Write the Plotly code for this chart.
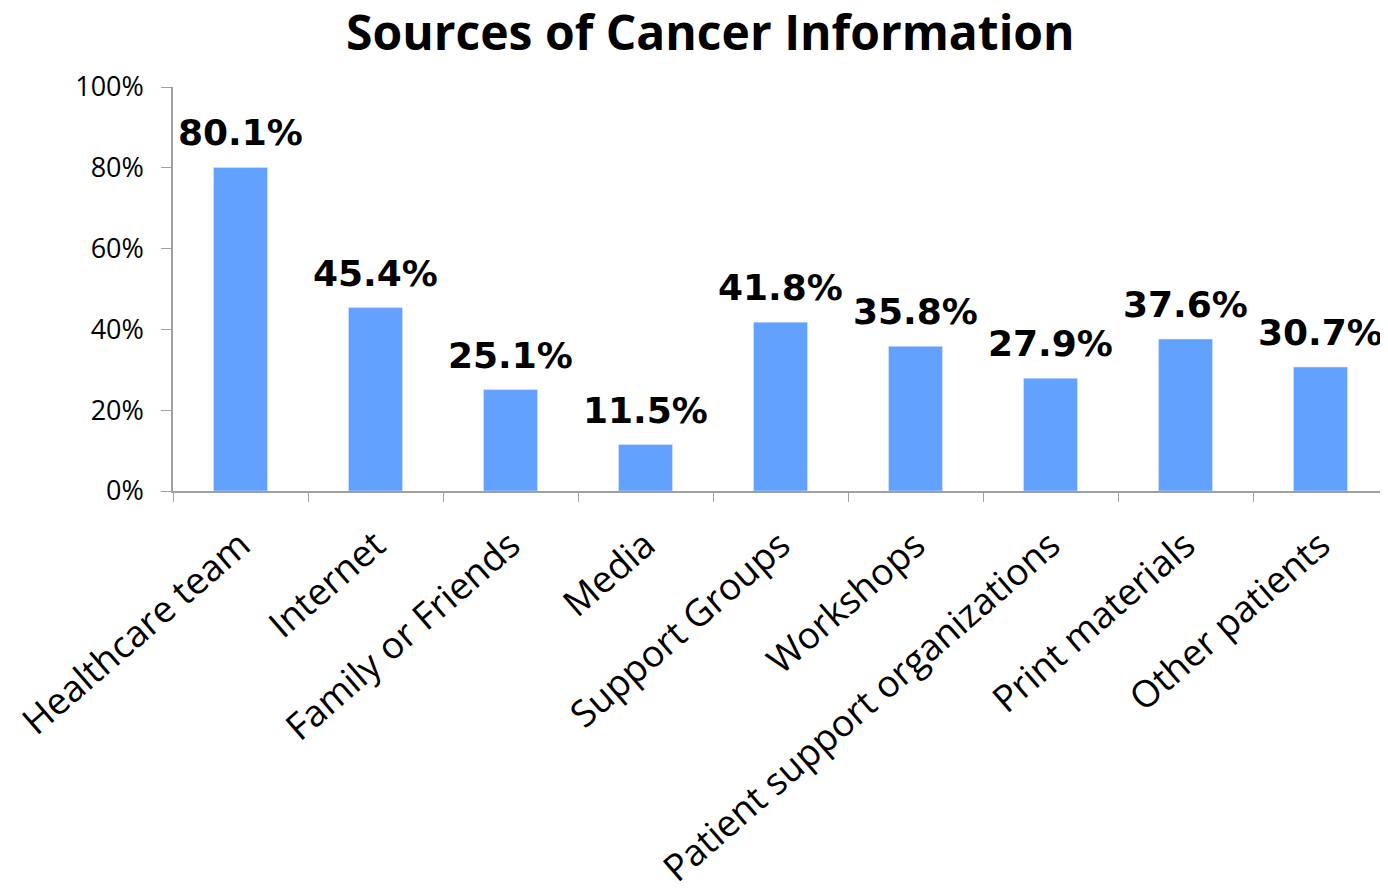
import plotly.graph_objects as go

categories = ["Healthcare team", "Internet", "Family or Friends", "Media", "Support Groups",
              "Workshops", "Patient support organizations", "Print materials", "Other patients"]
values = [80.1, 45.4, 25.1, 11.5, 41.8, 35.8, 27.9, 37.6, 30.7]
labels = [f"{v:.1f}%" for v in values]
y_ticks = [0, 20, 40, 60, 80, 100]
y_ticklabels = [f"{t}%" for t in y_ticks]

fig = go.Figure(go.Bar(
    x=categories, y=values, marker=dict(color="#63A1FF"), cliponaxis=False,
))

for c, v, t in zip(categories, values, labels):
    fig.add_annotation(x=c, y=v, text=f"<b>{t}</b>", showarrow=False, yanchor="bottom",
                       yshift=12,
                       font=dict(family="DejaVu Sans", size=36, color="black"))

fig.update_layout(
    width=1388, height=896,
    title=dict(text="<b>Sources of Cancer Information</b>", x=0.506, xanchor="center",
               y=0.972, yanchor="middle",
               font=dict(family="Open Sans", size=48, color="black")),
    margin=dict(l=165, r=8, t=79, b=413),
    plot_bgcolor="white", paper_bgcolor="white",
    bargap=0.6, showlegend=False,
    xaxis=dict(tickangle=-41, tickson="boundaries", ticks="outside", ticklen=9,
               tickcolor="#A0A0A0", showline=True, linecolor="#A0A0A0", linewidth=1.5,
               automargin=False, ticklabelstandoff=16,
               tickfont=dict(family="Open Sans", size=37, color="black")),
    yaxis=dict(range=[0, 100], tickvals=y_ticks, ticktext=y_ticklabels, ticks="outside",
               ticklen=10, tickcolor="#A0A0A0", showline=True, linecolor="#A0A0A0",
               linewidth=1.5, showgrid=False, zeroline=False, ticklabelstandoff=12,
               automargin=False,
               tickfont=dict(family="Open Sans", size=27, color="black")),
)

fig.write_html("out.html")
